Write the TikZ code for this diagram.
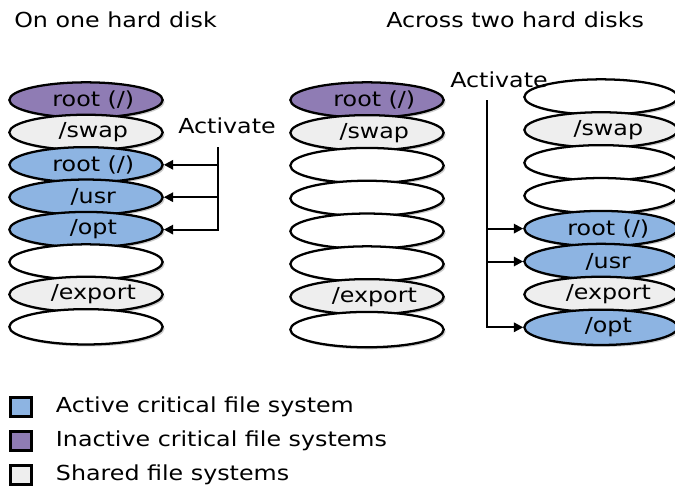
\documentclass[tikz,border=0pt]{standalone}
\usepackage{fontspec}
\setmainfont{DejaVu Sans}[FakeStretch=1.15]
\usetikzlibrary{shapes.geometric, positioning, arrows.meta, shadows}
\definecolor{fsblue}{RGB}{141,180,226}
\definecolor{fspurple}{RGB}{143,124,180}
\definecolor{fsgray}{RGB}{238,238,238}
\tikzset{
  disk/.style={ellipse, draw=black, line width=1.7pt, minimum width=115pt, minimum height=26.5pt, inner sep=0pt, font=\fontsize{15.5}{18}\selectfont, drop shadow={shadow xshift=1.5pt, shadow yshift=-1.5pt, opacity=0.4}},
  txt/.style={font=\fontsize{15.5}{18}\selectfont, anchor=west, inner sep=0pt},
  activate/.style={line width=1.5pt, -{Triangle[length=7pt,width=7pt]}},
  legendbox/.style={rectangle, draw=black, line width=2pt, minimum width=16pt, minimum height=14.5pt, inner sep=0pt}
}

\begin{document}
\begin{tikzpicture}[x=0.75pt, y=-0.75pt]
    \useasboundingbox (0,0) rectangle (675,487);

    % 1. Titulos
    \node[txt] (tone) at (14,20) {On one hard disk};
    \node[txt] (ttwo) at (386,20) {Across two hard disks};

    % 2. Un solo disco
    \foreach \i/\col/\txt in {
        0/fspurple/{root (/)}, 1/fsgray/{/swap}, 2/fsblue/{root (/)}, 3/fsblue/{/usr},
        4/fsblue/{/opt}, 5/white/{}, 6/fsgray/{/export}, 7/white/{}
    } {
        \node[disk, fill=\col] (a\i) at (86, 100+32.4*\i) {\hspace*{11pt}\txt};
    }

    % 3. Dos discos
    \foreach \i/\col/\txt in {
        0/fspurple/{root (/)}, 1/fsgray/{/swap}, 2/white/{}, 3/white/{},
        4/white/{}, 5/white/{}, 6/fsgray/{/export}, 7/white/{}
    } {
        \node[disk, fill=\col] (b\i) at (367, 100+32.8*\i) {\hspace*{11pt}\txt};
    }
    \foreach \i/\col/\txt in {
        0/white/{}, 1/fsgray/{/swap}, 2/white/{}, 3/white/{},
        4/fsblue/{root (/)}, 5/fsblue/{/usr}, 6/fsgray/{/export}, 7/fsblue/{/opt}
    } {
        \node[disk, fill=\col] (c\i) at (601, 97+32.9*\i) {\hspace*{11pt}\txt};
    }

    % 4. Activacion
    \node[txt] (actone) at (178,126) {Activate};
    \coordinate (tone) at (218,147);
    \draw[activate] (tone) |- (a4.east);
    \draw[activate] (tone |- a2.east) -- (a2.east);
    \draw[activate] (tone |- a3.east) -- (a3.east);

    \node[txt] (acttwo) at (450,80) {Activate};
    \coordinate (ttwo) at (487,100);
    \draw[activate] (ttwo) |- (c7.west);
    \draw[activate] (ttwo |- c4.west) -- (c4.west);
    \draw[activate] (ttwo |- c5.west) -- (c5.west);

    % 5. Leyenda
    \foreach \i/\col/\txt in {
        0/fsblue/Active critical file system,
        1/fspurple/Inactive critical file systems,
        2/fsgray/Shared file systems
    } {
        \node[legendbox, fill=\col] (box\i) at (21, 407+34*\i) {};
        \node[txt, right=17pt of box\i] (leg\i) {\txt};
    }

\end{tikzpicture}
\end{document}
